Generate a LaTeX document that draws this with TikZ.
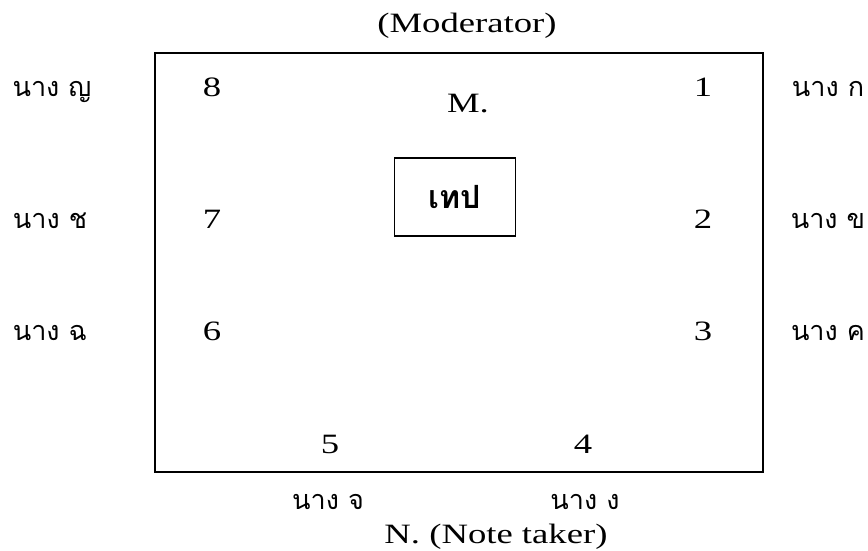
\documentclass[tikz,border=0pt]{standalone}
\usepackage{fontspec}
\setmainfont{Liberation Serif}[FakeStretch=1.31]
\newfontfamily\thai[Script=Thai]{Loma}
\begin{document}
\begin{tikzpicture}[x=1pt,y=-1pt,
  lat/.style={font=\fontsize{28}{30}\selectfont, inner sep=0pt, anchor=base},
  th/.style={font=\thai\fontsize{27}{30}\selectfont, inner sep=0pt, anchor=base},
  seat/.style={lat}]
\useasboundingbox (0,0) rectangle (868,550);
\draw[line width=2.2pt] (155,53) rectangle (763,472);
\node[draw, line width=1.3pt, minimum width=121pt, minimum height=78pt, inner sep=0pt,
      font=\thai\bfseries\fontsize{32}{34}\selectfont] (tape) at (455,197) {เทป};
\node[lat] (mod) at (467,32) {(Moderator)};
\node[lat] (m) at (468,112) {M.};
\node[seat] (s8) at (212,96) {8};
\node[seat] (s1) at (703,96) {1};
\node[seat] (s7) at (212,228) {7};
\node[seat] (s2) at (703,228) {2};
\node[seat] (s6) at (212,340) {6};
\node[seat] (s3) at (703,340) {3};
\node[seat] (s5) at (330,453) {5};
\node[seat] (s4) at (583,453) {4};
\node[th] (pj) at (52,96) {นาง ญ};
\node[th] (pch) at (50,228) {นาง ช};
\node[th] (pchh) at (50,340) {นาง ฉ};
\node[th] (pk) at (828,96) {นาง ก};
\node[th] (pkh) at (828,228) {นาง ข};
\node[th] (pkk) at (828,340) {นาง ค};
\node[th] (pc) at (328,509) {นาง จ};
\node[th] (png) at (585,509) {นาง ง};
\node[lat] (note) at (496,543) {N. (Note taker)};
\end{tikzpicture}
\end{document}
